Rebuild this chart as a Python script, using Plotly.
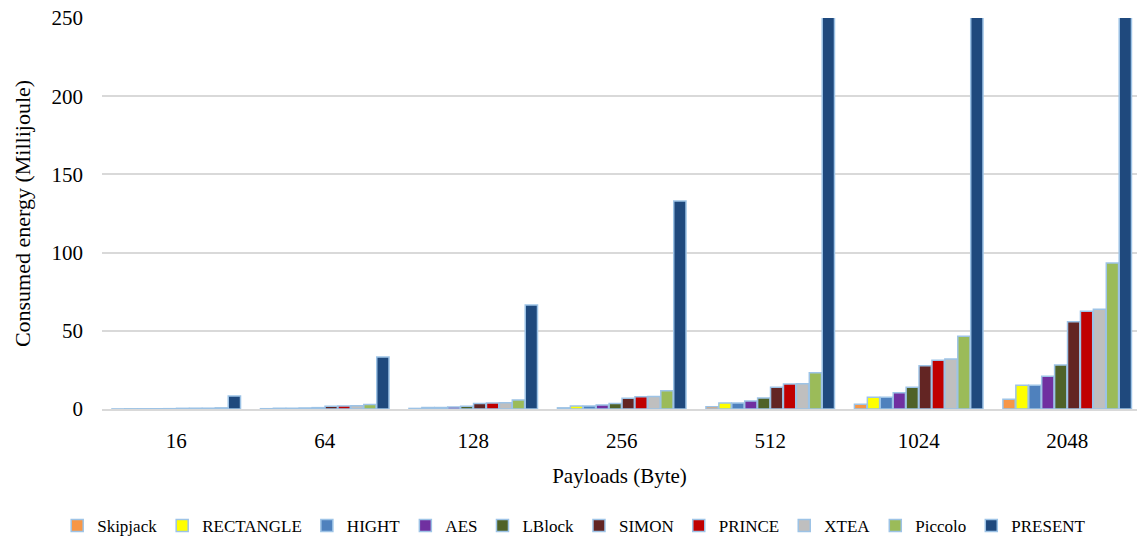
import plotly.graph_objects as go

payloads = ["16", "64", "128", "256", "512", "1024", "2048"]

skipjack  = [0.05, 0.19, 0.37, 0.75, 1.5, 3.0, 6.2]
rectangle = [0.12, 0.47, 0.95, 1.9, 3.8, 7.5, 15.2]
hight     = [0.12, 0.47, 0.95, 1.9, 3.8, 7.5, 15.2]
aes       = [0.16, 0.65, 1.3, 2.6, 5.1, 10.4, 20.9]
lblock    = [0.22, 0.87, 1.75, 3.5, 7.0, 13.9, 28.1]
simon     = [0.43, 1.73, 3.45, 6.9, 13.9, 27.7, 55.8]
prince    = [0.49, 1.95, 3.9, 7.9, 16.0, 31.1, 62.5]
xtea      = [0.5, 2.0, 4.0, 8.0, 16.2, 32.0, 63.7]
piccolo   = [0.73, 2.9, 5.8, 11.6, 23.2, 46.5, 93.3]
present   = [8.3, 33.2, 66.5, 133.0, 266.0, 532.0, 1064.0]

series = [
    ("Skipjack", skipjack, "#F79646"),
    ("RECTANGLE", rectangle, "#FFFF00"),
    ("HIGHT", hight, "#4F81BD"),
    ("AES", aes, "#7030A0"),
    ("LBlock", lblock, "#4F6228"),
    ("SIMON", simon, "#632523"),
    ("PRINCE", prince, "#C00000"),
    ("XTEA", xtea, "#BFBFBF"),
    ("Piccolo", piccolo, "#9BBB59"),
    ("PRESENT", present, "#1F497D"),
]

FONT = "Liberation Serif"

fig = go.Figure()
for name, vals, color in series:
    fig.add_trace(go.Bar(
        name=name, x=payloads, y=vals,
        marker=dict(color=color, line=dict(color="#9DC3E6", width=1.5)),
    ))

fig.update_layout(
    width=1137, height=540,
    margin=dict(l=102, r=0, t=18, b=131),
    plot_bgcolor="white", paper_bgcolor="white",
    barmode="group", bargap=0.13, bargroupgap=0.05,
    font=dict(family=FONT, size=21, color="#000000"),
    showlegend=True,
    legend=dict(
        orientation="h", xref="container", yref="container",
        x=0.505, y=0.026, xanchor="center", yanchor="middle",
        font=dict(family=FONT, size=17), itemwidth=30,
        traceorder="normal",
    ),
)

fig.update_xaxes(
    type="category", range=[-0.5, 6.47],
    showline=True, linecolor="#D9D9D9", linewidth=1.5,
    ticks="", ticklabelstandoff=12,
    tickfont=dict(family=FONT, size=21),
    title=dict(text="Payloads (Byte)", font=dict(family=FONT, size=21), standoff=16),
)
fig.update_yaxes(
    range=[0, 250], dtick=50, tick0=0,
    showgrid=True, gridcolor="#D9D9D9", gridwidth=1.5,
    zeroline=False, ticks="", ticklabelstandoff=18,
    tickfont=dict(family=FONT, size=21),
    title=dict(text="Consumed energy (Millijoule)", font=dict(family=FONT, size=22), standoff=14),
)

fig.write_html("out.html")
